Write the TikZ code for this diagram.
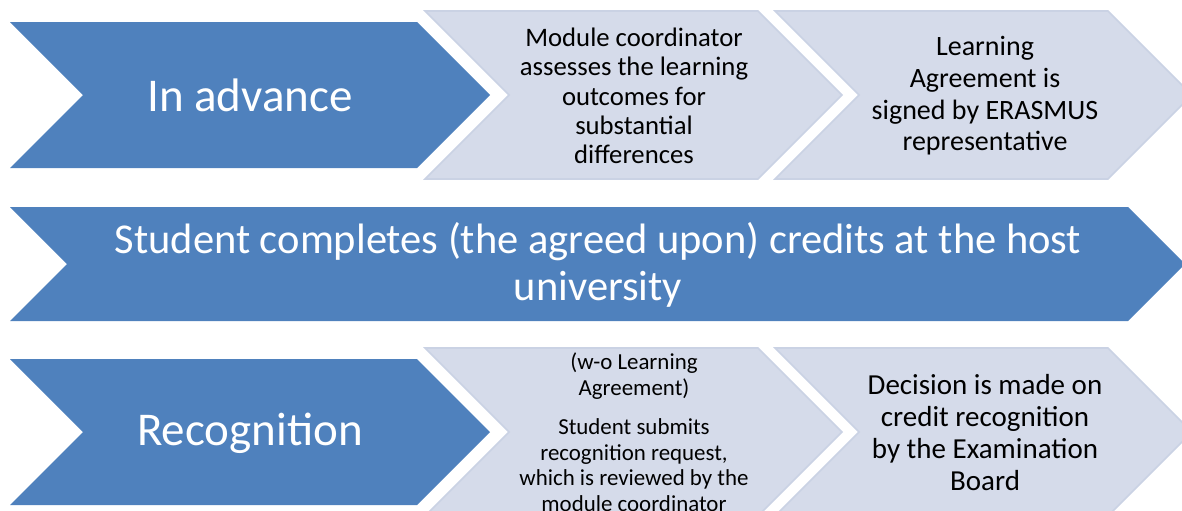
\documentclass[tikz,border=0pt]{standalone}
\usepackage{fontspec}
\setmainfont{Carlito}
\definecolor{chevblue}{RGB}{79,129,189}
\definecolor{chevlight}{RGB}{213,219,234}
\definecolor{chevedge}{RGB}{202,210,228}
\tikzset{
	bluechev/.style={fill=chevblue, draw=none},
	lightchev/.style={fill=chevlight, draw=chevedge, line width=0.8pt},
	whitetext/.style={text=white, align=center, inner sep=0pt},
	darktext/.style={text=black, align=center, inner sep=0pt}
}
% chevron: left top corner, length to the tip and height
\def\chevron[#1](#2,#3)(#4:#5){\draw[#1] (#2,#3) -- ++({#4-#5/2},0) -- ++({#5/2},{#5/2}) -- ++({-#5/2},{#5/2}) -- ++({-(#4-#5/2)},0) -- ++({#5/2},{-#5/2}) -- cycle;}

\begin{document}
\begin{tikzpicture}[x=0.5pt, y=-0.5pt]
		%%%%% START %%%%%
		
		\useasboundingbox (0, 0) rectangle (1182, 510);
		\clip (0, 0) rectangle (1182, 510);
		
		% first row
		\chevron[bluechev](10, 22)(480:146);
		\chevron[lightchev](425, 11)(417:168);
		\chevron[lightchev](775, 11)(417:168);
		
		\node[whitetext, font=\fontsize{23.5}{26}\selectfont] (advance) at (250, 95) {In advance};
		\node[darktext, font=\fontsize{13.35}{14.6}\selectfont] (assess) at (634, 96) {Module coordinator\\assesses the learning\\outcomes for\\substantial\\differences};
		\node[darktext, font=\fontsize{14}{15.8}\selectfont] (signed) at (985, 96) {Learning\\Agreement is\\signed by ERASMUS\\representative};
		
		% second row
		\chevron[bluechev](10, 207)(1175:114);
		
		\node[whitetext, font=\fontsize{21.25}{23.5}\selectfont] (host) at (598, 265) {Student completes (the agreed upon) credits at the host\\university};
		
		% third row
		\chevron[bluechev](10, 359)(480:146);
		\chevron[lightchev](425, 348)(417:168);
		\chevron[lightchev](775, 348)(417:168);
		
		\node[whitetext, font=\fontsize{23.5}{26}\selectfont] (recognition) at (250, 433) {Recognition};
		\node[darktext, font=\fontsize{11.45}{12.75}\selectfont] (submit) at (634, 432) {(w-o Learning\\Agreement)\\[7pt]Student submits\\recognition request,\\which is reviewed by the\\module coordinator};
		\node[darktext, font=\fontsize{14.5}{16}\selectfont] (decision) at (985, 433) {Decision is made on\\credit recognition\\by the Examination\\Board};
		
		%%%%% END %%%%%
\end{tikzpicture}
\end{document}
